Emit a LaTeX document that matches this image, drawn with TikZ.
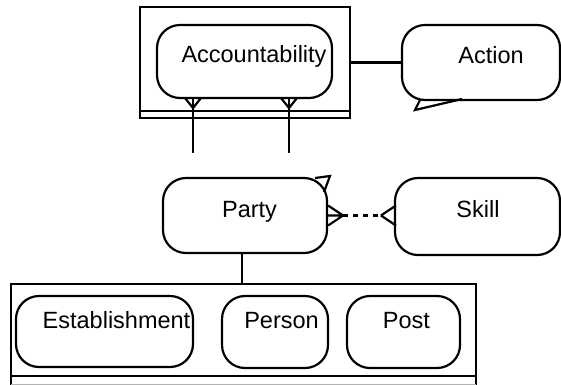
\documentclass[tikz,border=0pt]{standalone}
\usepackage{fontspec}
\setmainfont{Liberation Sans}
\begin{document}
\begin{tikzpicture}[x=1pt,y=-1pt, line width=2.2pt,
  every node/.style={font=\fontsize{23.5}{27}\selectfont},
  entity/.style={draw, rounded corners=23pt, inner sep=0pt},
  frame/.style={inner sep=0pt},
  lbl/.style={anchor=base, inner sep=0pt},
  relship/.style={line width=3.5pt, dash pattern=on 5pt off 5pt}]
 \useasboundingbox (0,0) rectangle (561,384);
 % supertype frames
 \node[frame, draw, minimum width=210pt, minimum height=111pt] (accframe) at (245,62.5) {};
 \draw ([yshift=8pt]accframe.south west) -- ([yshift=8pt]accframe.south east);
 \node[frame, minimum width=463pt, minimum height=98pt] (partyframe) at (243.5,334) {};
 \draw ([yshift=-1pt]partyframe.south west) |- (partyframe.north east) -- ([yshift=-1pt]partyframe.south east);
 \draw ([yshift=8pt]partyframe.south west) -- ([yshift=8pt]partyframe.south east);
 \draw[black!30, line width=1pt] (partyframe.south west) -- (partyframe.south east);
 % entities
 \node[entity, minimum width=175pt, minimum height=73pt] (acc) at (244.5,61.5) {};
 \node[entity, minimum width=158pt, minimum height=75pt] (action) at (481,62.5) {};
 \node[entity, minimum width=164pt, minimum height=75pt] (party) at (245,215.5) {};
 \node[entity, minimum width=165pt, minimum height=77pt] (skill) at (477.5,216.5) {};
 \node[entity, minimum width=177pt, minimum height=71pt] (est) at (104.5,331.5) {};
 \node[entity, minimum width=106pt, minimum height=72pt] (person) at (275,332) {};
 \node[entity, minimum width=113pt, minimum height=72pt] (post) at (403.5,332) {};
 \node[lbl] (acctxt) at (254,62) {Accountability};
 \node[lbl] (actiontxt) at (491,63) {Action};
 \node[lbl] (partytxt) at (249.5,217) {Party};
 \node[lbl] (skilltxt) at (478,217) {Skill};
 \node[lbl] (esttxt) at (116.5,328) {Establishment};
 \node[lbl] (persontxt) at (281.5,328) {Person};
 \node[lbl] (posttxt) at (406.5,328) {Post};
 % speech tail and stray tick
 \draw (420,100) -- (415,110) -- (462,99);
 \draw (315,178) -- (330,176) -- (324,192);
 % relationships
 \draw (accframe.east) -- (action.west);
 \foreach \x [count=\i] in {193,289} {
   \coordinate (accfoot\i) at (\x,108);
   \coordinate (accend\i) at (\x,153);
   \draw (accfoot\i) -- ++(-8,-10) (accfoot\i) -- ++(8,-10);
   \draw (acc.south -| accend\i) -- (accend\i);
 }
 \coordinate (pfoot) at ([xshift=15pt]party.east);
 \coordinate (sfoot) at ([xshift=-13pt]skill.west);
 \draw (pfoot) -- ++(-15,-10) (pfoot) -- ++(-15,10) (pfoot) -- (party.east);
 \draw (sfoot |- pfoot) -- ++(15,-10) (sfoot |- pfoot) -- ++(15,10);
 \draw[relship] (pfoot) -- (sfoot |- pfoot);
 \draw ([xshift=-3pt]party.south) -- ([xshift=-3pt]party.south |- partyframe.north);
\end{tikzpicture}
\end{document}
